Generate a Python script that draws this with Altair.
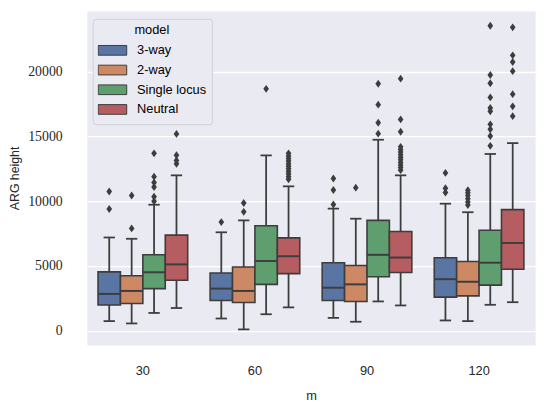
import altair as alt
import pandas as pd

m_values = [30, 60, 90, 120]
models = ["3-way", "2-way", "Single locus", "Neutral"]
colors = ["#5975a4", "#cc8963", "#5f9e6e", "#b55d60"]
line_gray = "#3d3d3d"

# box statistics: one row per m, one column per model
whisker_lo = [
    [740, 560, 1370, 1750],
    [940, 100, 1270, 1800],
    [990, 690, 2260, 1950],
    [790, 740, 2000, 2200],
]
q1 = [
    [1980, 2100, 3250, 3900],
    [2330, 2180, 3580, 4410],
    [2330, 2260, 4160, 4490],
    [2590, 2690, 3520, 4740],
]
median = [
    [2840, 3070, 4510, 5120],
    [3250, 3070, 5380, 5750],
    [3320, 3580, 5860, 5650],
    [3980, 3780, 5250, 6770],
]
q3 = [
    [4540, 4240, 5860, 7380],
    [4460, 4920, 8110, 7170],
    [5250, 5040, 8520, 7660],
    [5630, 5350, 7760, 9350],
]
whisker_hi = [
    [7200, 7100, 9730, 12000],
    [7600, 8520, 13540, 11150],
    [9430, 8650, 14750, 12000],
    [9810, 9150, 13650, 14490],
]

outliers_30 = [
    [9400, 10750],
    [7900, 10440],
    [10000, 10350, 11100, 11450, 11900, 13700],
    [12900, 13150, 13550, 15200],
]
outliers_60 = [
    [8390],
    [9180, 9860],
    [18680],
    [11700, 11900, 12100, 12300, 12500, 12700, 12900, 13100, 13300, 13500, 13700],
]
outliers_90 = [
    [9750, 10870, 11760],
    [11050],
    [15220, 16060, 17460, 19080],
    [12400, 12600, 12800, 13000, 13200, 13400, 13600, 13800, 14000, 14200,
     15370, 16320, 19470],
]
outliers_120 = [
    [10670, 11000, 12190],
    [9710, 9950, 10200, 10450, 10650, 10850],
    [14280, 15040, 15560, 15940, 16950, 17200, 18020, 19110, 19750, 23560],
    [16570, 17330, 18270, 20050, 20760, 21270, 23430],
]
outliers = [outliers_30, outliers_60, outliers_90, outliers_120]

rows = []
for i, m in enumerate(m_values):
    for j, model in enumerate(models):
        rows.append({
            "m": m, "model": model,
            "lo": whisker_lo[i][j], "q1": q1[i][j], "med": median[i][j],
            "q3": q3[i][j], "hi": whisker_hi[i][j],
        })
stats_df = pd.DataFrame(rows)

pts = []
for i, m in enumerate(m_values):
    for j, model in enumerate(models):
        for v in outliers[i][j]:
            pts.append({"m": m, "model": model, "value": v})
out_df = pd.DataFrame(pts)

x_enc = alt.X(
    "m:N", sort=m_values, title="m",
    scale=alt.Scale(paddingInner=0, paddingOuter=0),
    axis=alt.Axis(labelAngle=0, labelPadding=20, titleY=55, titleBaseline="alphabetic",
                  labelFont="Liberation Sans", labelFontSize=13,
                  titleFont="Liberation Sans", titleFontSize=13),
)
off_enc = alt.XOffset(
    "model:N", sort=models,
    scale=alt.Scale(domain=models, paddingOuter=0.5, paddingInner=0),
)
y_scale = alt.Scale(domain=[-1100, 24700], nice=False, zero=False)
y_axis = alt.Axis(
    values=[0, 5000, 10000, 15000, 20000], format="d", title="ARG height",
    labelFont="Liberation Serif", labelFontSize=14, labelPadding=25,
    titleFont="Liberation Sans", titleFontSize=12.5,
    titleX=-73, titleBaseline="middle",
)

base = alt.Chart(stats_df)

whiskers = base.mark_rule(color=line_gray, strokeWidth=1.8).encode(
    x=x_enc, xOffset=off_enc,
    y=alt.Y("lo:Q", scale=y_scale, axis=y_axis),
    y2="hi:Q",
)

boxes = base.mark_bar(stroke=line_gray, strokeWidth=1.6, opacity=1).encode(
    x=x_enc, xOffset=off_enc,
    y=alt.Y("q1:Q", scale=y_scale, axis=y_axis),
    y2="q3:Q",
    color=alt.Color(
        "model:N",
        scale=alt.Scale(domain=models, range=colors),
        legend=alt.Legend(
            title="model", orient="none", legendX=6, legendY=8,
            titleAnchor="middle", titleAlign="center", titleFontWeight="normal",
            titleFont="Liberation Sans", titleFontSize=13, titlePadding=4,
            labelFont="Liberation Sans", labelFontSize=13, labelOffset=10,
            symbolType="M-1,-0.34H1V0.34H-1Z", symbolSize=841,
            symbolStrokeColor=line_gray, symbolStrokeWidth=1, symbolOpacity=1,
            clipHeight=20, rowPadding=0, padding=5,
            fillColor="#eaeaf2", strokeColor="#cfcfd6", cornerRadius=3,
        ),
    ),
)

medians = base.mark_tick(color=line_gray, size=22, thickness=2, opacity=1).encode(
    x=x_enc, xOffset=off_enc,
    y=alt.Y("med:Q", scale=y_scale, axis=y_axis),
)

caps_lo = base.mark_tick(color=line_gray, size=11.5, thickness=1.8, opacity=1).encode(
    x=x_enc, xOffset=off_enc,
    y=alt.Y("lo:Q", scale=y_scale, axis=y_axis),
)
caps_hi = base.mark_tick(color=line_gray, size=11.5, thickness=1.8, opacity=1).encode(
    x=x_enc, xOffset=off_enc,
    y=alt.Y("hi:Q", scale=y_scale, axis=y_axis),
)

fliers = alt.Chart(out_df).mark_point(
    filled=True, color=line_gray, opacity=1, size=64,
    shape="M0,-1L0.72,0L0,1L-0.72,0Z",
).encode(
    x=x_enc, xOffset=off_enc,
    y=alt.Y("value:Q", scale=y_scale, axis=y_axis),
)

chart = (
    alt.layer(whiskers, boxes, medians, caps_lo, caps_hi, fliers)
    .properties(
        width=455, height=339,
        autosize=alt.AutoSizeParams(type="none"),
        padding={"left": 80, "top": 0, "right": 7, "bottom": 58},
    )
    .configure_view(fill="#eaeaf2", stroke="transparent")
    .configure_axis(
        domain=False, ticks=False, grid=False,
        labelColor="#262626", titleColor="#262626", titleFontWeight="normal",
    )
    .configure_axisY(grid=True, gridColor="white", gridWidth=1.3)
)

chart.save("out.html", embed_options={"renderer": "svg", "actions": False})
